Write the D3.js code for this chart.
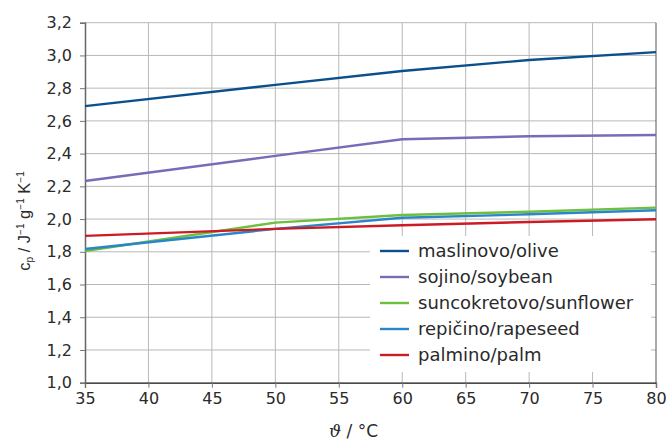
<!DOCTYPE html>
<html>
<head>
<meta charset="utf-8">
<script src="https://cdn.jsdelivr.net/npm/d3@7"></script>
<style>
  body { margin: 0; background: #fff; }
  text { font-family: "DejaVu Sans", sans-serif; fill: #2a2a2a; }
</style>
</head>
<body>
<div id="chart-area"></div>
<script>
// values
let temps = [35, 50, 60, 70, 80];
let names = ["maslinovo/olive", "sojino/soybean", "suncokretovo/sunflower", "repičino/rapeseed", "palmino/palm"];
let olive = [2.69, 2.82, 2.905, 2.972, 3.02];
let soybean = [2.233, 2.386, 2.488, 2.506, 2.514];
let sunflower = [1.805, 1.978, 2.025, 2.045, 2.07];
let rapeseed = [1.817, 1.94, 2.008, 2.029, 2.054];
let palm = [1.897, 1.94, 1.962, 1.982, 1.999];
let colors = ["#0b4f8c", "#7a6ab8", "#6dbf3e", "#2b86c9", "#cc1b25"];
let xTicks = [35, 40, 45, 50, 55, 60, 65, 70, 75, 80];
let yTicks = [1.0, 1.2, 1.4, 1.6, 1.8, 2.0, 2.2, 2.4, 2.6, 2.8, 3.0, 3.2];

let series = [olive, soybean, sunflower, rapeseed, palm];

let width = 671, height = 443;
let margin = {top: 22.7, right: 15, bottom: 60.3, left: 85};

let svg = d3.select("#chart-area").append("svg")
    .attr("width", width)
    .attr("height", height);

let x = d3.scaleLinear().domain([35, 80]).range([margin.left, width - margin.right]);
let y = d3.scaleLinear().domain([1.0, 3.2]).range([height - margin.bottom, margin.top]);

let comma = d => d3.format(".1f")(d).replace(".", ",");

// gridlines
svg.append("g").selectAll("line.h")
    .data(yTicks.slice(1))
    .enter().append("line")
    .attr("x1", x(35)).attr("x2", x(80))
    .attr("y1", d => y(d)).attr("y2", d => y(d))
    .attr("stroke", "#b8b8b8").attr("stroke-width", 1);

svg.append("g").selectAll("line.v")
    .data(xTicks.slice(1))
    .enter().append("line")
    .attr("x1", d => x(d)).attr("x2", d => x(d))
    .attr("y1", y(3.2)).attr("y2", y(1.0))
    .attr("stroke", d => d === 80 ? "#555" : "#b8b8b8").attr("stroke-width", 1);

// axes
let xAxis = d3.axisBottom(x).tickValues(xTicks).tickSize(5).tickPadding(5).tickFormat(d3.format("d"));
let yAxis = d3.axisLeft(y).tickValues(yTicks).tickSize(5).tickPadding(8).tickFormat(comma);

let gx = svg.append("g").attr("transform", "translate(0," + y(1.0) + ")").call(xAxis);
gx.select(".domain").attr("stroke", "#111").attr("stroke-width", 1.3);
gx.selectAll(".tick line").attr("stroke", "#777");
gx.selectAll(".tick text").attr("font-size", 16).attr("fill", "#2a2a2a");

let gy = svg.append("g").attr("transform", "translate(" + x(35) + ",0)").call(yAxis);
gy.select(".domain").attr("stroke", "#666").attr("stroke-width", 1.5);
gy.selectAll(".tick line").attr("stroke", "#777");
gy.selectAll(".tick text").attr("font-size", 16).attr("fill", "#2a2a2a");
gx.selectAll("text").style("font-family", "'DejaVu Sans', sans-serif");
gy.selectAll("text").style("font-family", "'DejaVu Sans', sans-serif");

// lines
let line = d3.line()
    .x((d, i) => x(temps[i]))
    .y(d => y(d));

svg.append("g").selectAll("path")
    .data(series)
    .enter().append("path")
    .attr("d", line)
    .attr("fill", "none")
    .attr("stroke", (d, i) => colors[i])
    .attr("stroke-width", 2.4);

// legend
let legend = svg.append("g");
legend.append("rect")
    .attr("x", 370).attr("y", 236)
    .attr("width", 281).attr("height", 136)
    .attr("fill", "#fff");

let rows = legend.selectAll("g.row")
    .data(names)
    .enter().append("g")
    .attr("transform", (d, i) => "translate(380," + (251 + i * 26) + ")");

rows.append("line")
    .attr("x1", 0).attr("x2", 29)
    .attr("stroke", (d, i) => colors[i])
    .attr("stroke-width", 2.4);

rows.append("text")
    .attr("x", 38).attr("dy", "0.33em")
    .attr("font-size", 18)
    .text(d => d);

// axis titles
let xt = svg.append("text")
    .attr("x", 378).attr("y", 437)
    .attr("text-anchor", "end")
    .attr("font-size", 17);
xt.append("tspan").attr("font-style", "italic").style("font-family", "'DejaVu Serif', serif").text("ϑ");
xt.append("tspan").text(" / °C");

let yt = svg.append("text")
    .attr("transform", "translate(30,221) rotate(-90)")
    .attr("text-anchor", "middle")
    .style("font-family", "'Liberation Sans', Arial, sans-serif")
    .attr("font-size", 16.5);
yt.append("tspan").text("c");
yt.append("tspan").attr("font-size", 10).attr("baseline-shift", "-25%").text("p");
yt.append("tspan").text(" / J");
yt.append("tspan").attr("font-size", 10).attr("baseline-shift", "60%").text("−1");
yt.append("tspan").text(" g");
yt.append("tspan").attr("font-size", 10).attr("baseline-shift", "60%").text("−1");
yt.append("tspan").text(" K");
yt.append("tspan").attr("font-size", 10).attr("baseline-shift", "60%").text("−1");
</script>
</body>
</html>
